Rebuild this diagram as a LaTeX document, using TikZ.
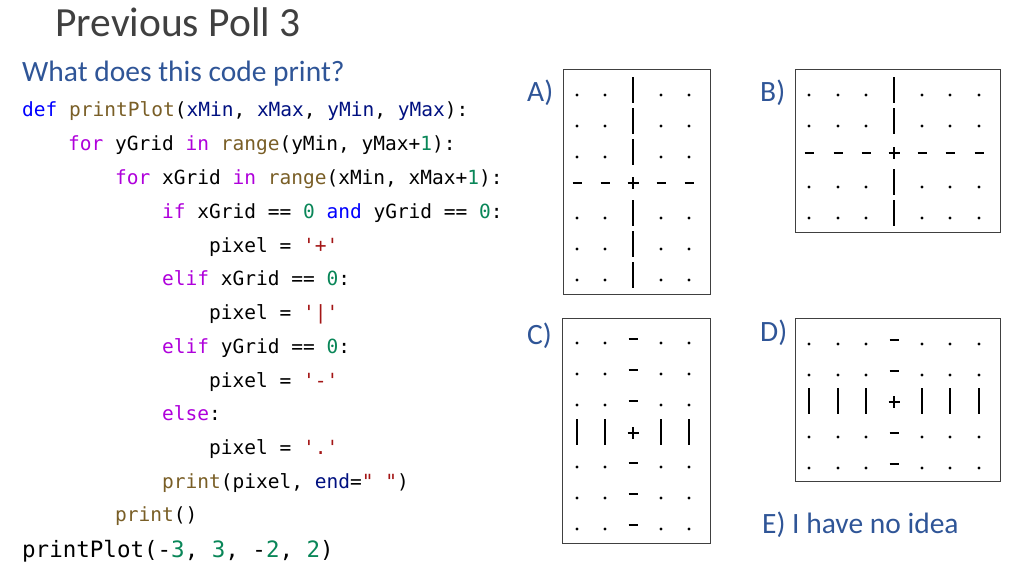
\documentclass[tikz,border=0pt]{standalone}
\usepackage{fontspec}
\setmainfont{Carlito}
\newfontfamily\cf{DejaVu Sans Mono}
\definecolor{ttl}{HTML}{404040}
\definecolor{qb}{HTML}{2F5597}
\definecolor{kw}{HTML}{AF00DB}
\definecolor{fn}{HTML}{795E26}
\definecolor{vr}{HTML}{001080}
\definecolor{nm}{HTML}{098658}
\definecolor{st}{HTML}{A31515}
\definecolor{bl}{HTML}{0000FF}
\newcommand\K[1]{\textcolor{kw}{#1}}
\newcommand\F[1]{\textcolor{fn}{#1}}
\newcommand\V[1]{\textcolor{vr}{#1}}
\newcommand\N[1]{\textcolor{nm}{#1}}
\newcommand\Sg[1]{\textcolor{st}{#1}}
\newcommand\Q{\symbol{39}}
\newcommand\DQ{\symbol{34}}
\newcommand\gd[2]{\fill (#1,#2) circle (1.6);}
\newcommand\gb[2]{\draw[glyph] (#1,#2-18) -- (#1,#2+8);}
\newcommand\gm[2]{\draw[glyph] (#1-4.5,#2-4) -- (#1+4.5,#2-4);}
\newcommand\gp[2]{\draw[glyph] (#1-5.5,#2-4) -- (#1+5.5,#2-4) (#1,#2-10) -- (#1,#2+2);}
\begin{document}
\begin{tikzpicture}[x=1pt,y=-1pt,
  glyph/.style={line width=1.3pt},
  box/.style={draw=black!75,line width=0.8pt},
  code/.style={anchor=base west,inner sep=0pt,font=\cf\fontsize{19.5}{20}\selectfont},
  lab/.style={anchor=base west,inner sep=0pt,text=qb,font=\fontsize{29.5}{32}\selectfont}]
\useasboundingbox (0,0) rectangle (1024,576);
\node[anchor=base west,inner sep=0pt,text=ttl,font=\fontsize{41.5}{44}\selectfont] (title) at (55,36) {Previous Poll 3};
\node[lab] (q) at (22,81) {What does this code print?};
% code
\node[code] (c1) at (22,116) {\textcolor{bl}{def} \F{printPlot}(\V{xMin}, \V{xMax}, \V{yMin}, \V{yMax}):};
\node[code] (c2) at (68,150) {\K{for} yGrid \K{in} \F{range}(yMin, yMax+\N{1}):};
\node[code] (c3) at (115,184) {\K{for} xGrid \K{in} \F{range}(xMin, xMax+\N{1}):};
\node[code] (c4) at (162,218) {\K{if} xGrid == \N{0} \textcolor{bl}{and} yGrid == \N{0}:};
\node[code] (c5) at (209,252) {pixel = \Sg{\Q+\Q}};
\node[code] (c6) at (162,285) {\K{elif} xGrid == \N{0}:};
\node[code] (c7) at (209,319) {pixel = \Sg{\Q|\Q}};
\node[code] (c8) at (162,353) {\K{elif} yGrid == \N{0}:};
\node[code] (c9) at (209,387) {pixel = \Sg{\Q-\Q}};
\node[code] (c10) at (162,420) {\K{else}:};
\node[code] (c11) at (209,454) {pixel = \Sg{\Q.\Q}};
\node[code] (c12) at (162,488) {\F{print}(pixel, \V{end}=\Sg{\DQ{} \DQ})};
\node[code] (c13) at (115,521) {\F{print}()};
\node[code,font=\cf\fontsize{22.5}{24}\selectfont] (c14) at (22,557) {printPlot(-\N{3}, \N{3}, -\N{2}, \N{2})};
% labels
\node[lab] (la) at (527,101) {A)};
\node[lab] (lb) at (760,101) {B)};
\node[lab] (lc) at (527,344) {C)};
\node[lab] (ld) at (760,341) {D)};
\node[lab] (le) at (762,533) {E) I have no idea};
% boxes
\draw[box] (563,69) rectangle (710,294);
\draw[box] (795,69) rectangle (1000,232);
\draw[box] (562,318) rectangle (710,543);
\draw[box] (795,318) rectangle (1000,481);
% A
\foreach \y in {95,126,157,218,249,280}{
  \foreach \x in {577,605,661,689}{\gd{\x}{\y}}
  \gb{633}{\y}}
\foreach \x in {577,605,661,689}{\gm{\x}{187}}
\gp{633}{187}
% B
\foreach \y in {95,126,187,218}{
  \foreach \x in {809,838,866,922,950,979}{\gd{\x}{\y}}
  \gb{894}{\y}}
\foreach \x in {809,838,866,922,950,979}{\gm{\x}{157}}
\gp{894}{157}
% C
\foreach \y in {343,374,405,467,498,529}{
  \foreach \x in {577,605,661,689}{\gd{\x}{\y}}
  \gm{633}{\y}}
\foreach \x in {577,605,661,689}{\gb{\x}{437}}
\gp{633}{437}
% D
\foreach \y in {344,375,437,468}{
  \foreach \x in {809,838,866,922,950,979}{\gd{\x}{\y}}
  \gm{894}{\y}}
\foreach \x in {809,838,866,922,950,979}{\gb{\x}{406}}
\gp{894}{406}
\end{tikzpicture}
\end{document}
